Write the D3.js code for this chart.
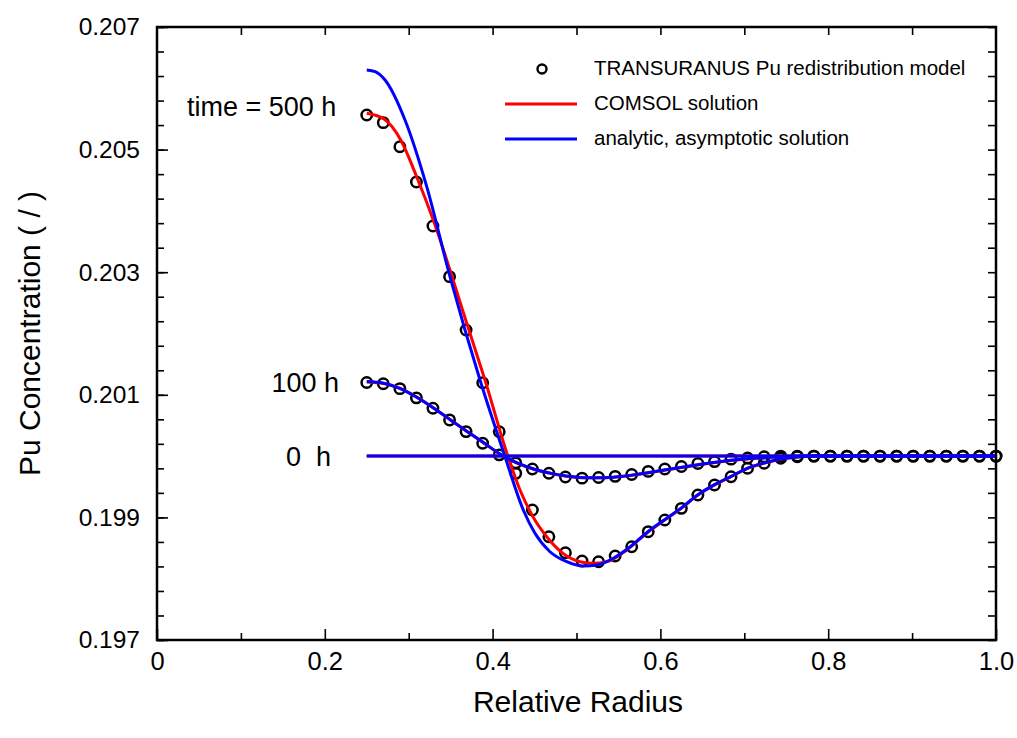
<!DOCTYPE html>
<html>
<head>
<meta charset="utf-8">
<script src="https://cdn.jsdelivr.net/npm/d3@7"></script>
<style>
  html, body { margin: 0; padding: 0; background: #fff; }
  svg { display: block; font-family: "Liberation Sans", Arial, sans-serif; }
  text { white-space: pre; }
</style>
</head>
<body>
<svg id="chart" width="1017" height="738"></svg>
<script>
// ---------------- data ----------------
const xTicks = [0, 0.2, 0.4, 0.6, 0.8, 1.0];
const xTickLabels = ["0", "0.2", "0.4", "0.6", "0.8", "1.0"];
const yTicks = [0.197, 0.199, 0.201, 0.203, 0.205, 0.207];
const yTickLabels = ["0.197", "0.199", "0.201", "0.203", "0.205", "0.207"];

// radial positions of TRANSURANUS nodes
const rNodes = [0.2500, 0.2697, 0.2895, 0.3092, 0.3289, 0.3487, 0.3684, 0.3882, 0.4079, 0.4276,
                0.4474, 0.4671, 0.4868, 0.5066, 0.5263, 0.5461, 0.5658, 0.5855, 0.6053, 0.6250,
                0.6447, 0.6645, 0.6842, 0.7039, 0.7237, 0.7434, 0.7632, 0.7829, 0.8026, 0.8224,
                0.8421, 0.8618, 0.8816, 0.9013, 0.9211, 0.9408, 0.9605, 0.9803, 1.0000];

// TRANSURANUS, 100 h
const tu100 = [0.20120, 0.20118, 0.20110, 0.20095, 0.20078, 0.20059, 0.20040, 0.20021, 0.20002, 0.19989,
               0.19979, 0.19972, 0.19966, 0.19964, 0.19965, 0.19967, 0.19970, 0.19975, 0.19979, 0.19983,
               0.19988, 0.19991, 0.19995, 0.19997, 0.19999, 0.20000, 0.20000, 0.20000, 0.20000, 0.20000,
               0.20000, 0.20000, 0.20000, 0.20000, 0.20000, 0.20000, 0.20000, 0.20000, 0.20000];

// TRANSURANUS, 500 h
const tu500 = [0.205565, 0.205440, 0.205047, 0.204471, 0.203754, 0.202927, 0.202057, 0.201197, 0.200398, 0.199719,
               0.199121, 0.198685, 0.198424, 0.198289, 0.198277, 0.198370, 0.198522, 0.198767, 0.198958, 0.199148,
               0.199365, 0.199529, 0.199664, 0.199801, 0.199883, 0.199964, 0.199990, 0.200000, 0.200000, 0.200000,
               0.200000, 0.200000, 0.200000, 0.200000, 0.200000, 0.200000, 0.200000, 0.200000, 0.200000];

// COMSOL solution, 500 h
const comsol500R = [0.250, 0.271, 0.2905, 0.3095, 0.3293, 0.3691, 0.3909, 0.4184,
                    0.4327, 0.4481, 0.4645, 0.4839, 0.5042, 0.5197, 0.5360, 0.5598, 0.5852, 0.6053,
                    0.6250, 0.6447, 0.6645, 0.6842, 0.7039, 0.7237, 0.7434, 0.7632, 0.7829, 0.8500, 1.0000];
const comsol500 = [0.205592, 0.205494, 0.205157, 0.204558, 0.203852, 0.202172, 0.201241, 0.199991,
                   0.199447, 0.199011, 0.198685, 0.198414, 0.198277, 0.198251, 0.198277, 0.198468, 0.198762, 0.198960,
                   0.199150, 0.199365, 0.199530, 0.199665, 0.199800, 0.199885, 0.199950, 0.199985, 0.200000, 0.200000, 0.200000];

// COMSOL solution, 100 h
const comsol100R = [0.250, 0.270, 0.290, 0.310, 0.330, 0.350, 0.370, 0.390, 0.410, 0.430,
                    0.450, 0.470, 0.490, 0.510, 0.530, 0.550, 0.570, 0.590, 0.610, 0.630,
                    0.650, 0.670, 0.690, 0.710, 0.730, 0.750, 0.780, 0.850, 1.000];
const comsol100 = [0.201210, 0.201185, 0.201105, 0.200960, 0.200782, 0.200590, 0.200398, 0.200210, 0.200020, 0.199880,
                   0.199782, 0.199715, 0.199668, 0.199645, 0.199645, 0.199662, 0.199695, 0.199738, 0.199782, 0.199825,
                   0.199868, 0.199905, 0.199938, 0.199962, 0.199980, 0.199992, 0.200000, 0.200000, 0.200000];

// analytic, asymptotic solution, 500 h
const analytic500R = [0.250, 0.260, 0.2718, 0.2956, 0.3215, 0.3492, 0.3850, 0.4148, 0.4366, 0.4505,
                      0.4684, 0.4883, 0.5081, 0.5241, 0.5439, 0.5617, 0.5855, 0.6053, 0.6250, 0.6447,
                      0.6645, 0.6842, 0.7039, 0.7237, 0.7434, 0.7632, 0.7829, 0.8500, 1.0000];
const analytic500 = [0.206299, 0.206271, 0.206135, 0.205483, 0.204395, 0.202927, 0.201241, 0.199991, 0.199121, 0.198741,
                     0.198440, 0.198277, 0.198207, 0.198223, 0.198333, 0.198496, 0.198770, 0.198965, 0.199155, 0.199370,
                     0.199535, 0.199670, 0.199805, 0.199888, 0.199952, 0.199985, 0.200000, 0.200000, 0.200000];

// analytic, asymptotic solution, 100 h
const analytic100R = comsol100R;
const analytic100 = [0.201215, 0.201190, 0.201100, 0.200955, 0.200780, 0.200590, 0.200398, 0.200212, 0.200025, 0.199885,
                     0.199785, 0.199718, 0.199670, 0.199648, 0.199648, 0.199665, 0.199698, 0.199740, 0.199785, 0.199828,
                     0.199870, 0.199908, 0.199940, 0.199963, 0.199980, 0.199992, 0.200000, 0.200000, 0.200000];

// initial state, 0 h
const initR = [0.25, 1.0];
const init0 = [0.200, 0.200];

const legendLabels = ["TRANSURANUS Pu redistribution model", "COMSOL solution", "analytic, asymptotic solution"];
const timeLabels = ["time = 500 h", "100 h", "0  h"];
const timeValues = [0.2057, 0.2012, 0.2000];

// ---------------- drawing ----------------
const svg = d3.select("#chart");
const L = 157, R = 996, T = 27, B = 640;

const x = d3.scaleLinear().domain([0, 1]).range([L, R]);
const y = d3.scaleLinear().domain([0.197, 0.207]).range([B, T]);

const gPlot = svg.append("g");

const line = d3.line().x(d => x(d[0])).y(d => y(d[1])).curve(d3.curveMonotoneX);
const zip = (a, b) => a.map((v, i) => [v, b[i]]);

// markers
const markerData = zip(rNodes, tu100).concat(zip(rNodes, tu500));
gPlot.selectAll("circle.tu").data(markerData).enter().append("circle")
  .attr("class", "tu")
  .attr("cx", d => x(d[0])).attr("cy", d => y(d[1]))
  .attr("r", 5.2)
  .attr("fill", "none").attr("stroke", "#000").attr("stroke-width", 2.5);

// COMSOL (red)
[zip(comsol500R, comsol500), zip(comsol100R, comsol100), zip(initR, init0)].forEach(s => {
  gPlot.append("path").attr("d", line(s))
    .attr("fill", "none").attr("stroke", "#ff0000").attr("stroke-width", 3);
});
// analytic (blue)
[zip(analytic500R, analytic500), zip(analytic100R, analytic100), zip(initR, init0)].forEach(s => {
  gPlot.append("path").attr("d", line(s))
    .attr("fill", "none").attr("stroke", "#0000ff").attr("stroke-width", 3);
});

const FF = "Liberation Sans, Arial, sans-serif";
// axes: ticks inward on all four sides
svg.append("g").attr("transform", `translate(0,${B})`)
  .call(d3.axisBottom(x).tickValues(xTicks).tickFormat((d, i) => xTickLabels[i])
    .tickSizeInner(-11).tickSizeOuter(0).tickPadding(12))
  .call(g => g.select(".domain").remove())
  .call(g => g.selectAll("line").attr("stroke", "#000").attr("stroke-width", 1.6))
  .call(g => g.selectAll("text").attr("font-size", 25.5).attr("fill", "#000").attr("font-family", FF));
svg.append("g").attr("transform", `translate(0,${B})`)
  .call(d3.axisBottom(x).tickValues([0.1, 0.3, 0.5, 0.7, 0.9]).tickFormat("").tickSizeInner(-7).tickSizeOuter(0))
  .call(g => g.select(".domain").remove())
  .call(g => g.selectAll("line").attr("stroke", "#000").attr("stroke-width", 1.6));
svg.append("g").attr("transform", `translate(0,${T})`)
  .call(d3.axisTop(x).tickValues([0.1, 0.2, 0.3, 0.4, 0.5, 0.6, 0.7, 0.8, 0.9]).tickFormat("").tickSizeInner(-8).tickSizeOuter(0))
  .call(g => g.select(".domain").remove())
  .call(g => g.selectAll("line").attr("stroke", "#000").attr("stroke-width", 1.6));

svg.append("g").attr("transform", `translate(${L},0)`)
  .call(d3.axisLeft(y).tickValues(yTicks).tickFormat((d, i) => yTickLabels[i])
    .tickSizeInner(-11).tickSizeOuter(0).tickPadding(17))
  .call(g => g.select(".domain").remove())
  .call(g => g.selectAll("line").attr("stroke", "#000").attr("stroke-width", 1.6))
  .call(g => g.selectAll("text").attr("font-size", 24.5).attr("fill", "#000").attr("font-family", FF));
const yMinor = d3.range(0, 26).map(i => 0.197 + i * 0.0004).filter(v => v < 0.2071);
svg.append("g").attr("transform", `translate(${L},0)`)
  .call(d3.axisLeft(y).tickValues(yMinor).tickFormat("").tickSizeInner(-7).tickSizeOuter(0))
  .call(g => g.select(".domain").remove())
  .call(g => g.selectAll("line").attr("stroke", "#000").attr("stroke-width", 1.6));
svg.append("g").attr("transform", `translate(${R},0)`)
  .call(d3.axisRight(y).tickValues(yMinor).tickFormat("").tickSizeInner(-8).tickSizeOuter(0))
  .call(g => g.select(".domain").remove())
  .call(g => g.selectAll("line").attr("stroke", "#000").attr("stroke-width", 1.6));

// frame
svg.append("rect").attr("x", L).attr("y", T).attr("width", R - L).attr("height", B - T)
  .attr("fill", "none").attr("stroke", "#000").attr("stroke-width", 2.5);

// axis titles
svg.append("text").attr("x", 578).attr("y", 712).attr("text-anchor", "middle")
  .attr("font-size", 30).attr("fill", "#000").text("Relative Radius");
svg.append("text").attr("transform", `translate(40,${(T + B) / 2}) rotate(-90)`)
  .attr("text-anchor", "middle").attr("font-size", 30).attr("fill", "#000").text("Pu Concentration ( / )");

// time annotations
const tAnn = [[187, "start"], [339, "end"], [331, "end"]];
timeLabels.forEach((t, i) => {
  svg.append("text").attr("x", tAnn[i][0]).attr("y", y(timeValues[i])).attr("dy", "0.35em")
    .attr("text-anchor", tAnn[i][1]).attr("font-size", 27).attr("fill", "#000").text(t);
});

// legend
const legY = [69, 104, 139];
svg.append("circle").attr("cx", 542).attr("cy", legY[0]).attr("r", 4.5)
  .attr("fill", "none").attr("stroke", "#000").attr("stroke-width", 2.4);
svg.append("line").attr("x1", 505).attr("x2", 577).attr("y1", legY[1]).attr("y2", legY[1])
  .attr("stroke", "#ff0000").attr("stroke-width", 3);
svg.append("line").attr("x1", 505).attr("x2", 577).attr("y1", legY[2]).attr("y2", legY[2])
  .attr("stroke", "#0000ff").attr("stroke-width", 3);
legendLabels.forEach((t, i) => {
  svg.append("text").attr("x", 594).attr("y", legY[i] - 1).attr("dy", "0.35em")
    .attr("font-size", 20.5).attr("fill", "#000").text(t);
});
</script>
</body>
</html>
